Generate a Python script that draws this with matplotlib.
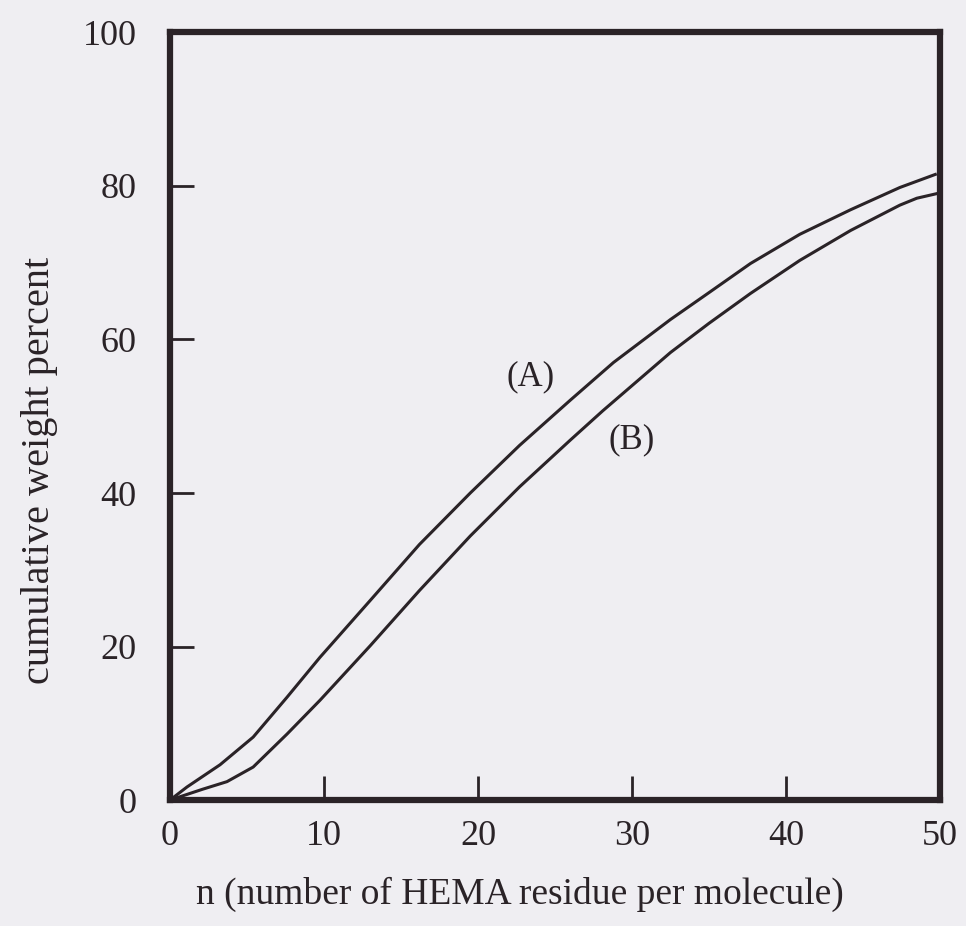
import matplotlib
matplotlib.use("Agg")
import matplotlib.pyplot as plt

# values
n_a = [0, 1.1, 3.25, 5.4, 7.6, 9.74, 13.0, 16.2, 19.5, 22.7, 26.0, 28.8, 32.5,
       35.0, 37.7, 40.9, 44.2, 47.4, 49.7]
w_a = [0, 1.7, 4.6, 8.2, 13.4, 18.6, 26.0, 33.3, 40.0, 46.2, 52.1, 57.0, 62.6,
       66.1, 69.9, 73.7, 76.9, 79.8, 81.5]
n_b = [0, 2.1, 3.7, 5.4, 7.6, 9.74, 13.0, 16.2, 19.5, 22.7, 26.0, 28.1, 32.5,
       35.0, 37.7, 40.9, 44.2, 47.4, 48.5, 49.8]
w_b = [0, 1.4, 2.4, 4.3, 8.6, 13.0, 20.1, 27.3, 34.4, 40.8, 46.9, 50.7, 58.3,
       62.1, 66.0, 70.3, 74.2, 77.5, 78.4, 79.0]

x_ticks = [0, 10, 20, 30, 40, 50]
y_ticks = [0, 20, 40, 60, 80, 100]

bg = "#efeef2"
ink = "#2a2327"

plt.rcParams["font.family"] = ["Liberation Serif", "DejaVu Serif"]

fig = plt.figure(figsize=(9.66, 9.26), dpi=100, facecolor=bg)
ax = fig.add_axes([0.176, 0.136, 0.797, 0.829])
ax.set_facecolor(bg)

ax.plot(n_a, w_a, color=ink, lw=2.2, solid_joinstyle="round")
ax.plot(n_b, w_b, color=ink, lw=2.2, solid_joinstyle="round")

ax.text(23.4, 55.2, "(A)", fontsize=25, color=ink, ha="center", va="center")
ax.text(30.0, 46.9, "(B)", fontsize=25, color=ink, ha="center", va="center")

ax.set_xlim(0, 50)
ax.set_ylim(0, 100)
ax.set_xticks(x_ticks)
ax.set_yticks(y_ticks)
ax.tick_params(direction="in", length=17, width=2, color=ink,
               labelsize=26, labelcolor=ink)
ax.tick_params(axis="x", pad=14)
ax.tick_params(axis="y", pad=24)

for s in ax.spines.values():
    s.set_linewidth(4.5)
    s.set_color(ink)

ax.set_xlabel("n (number of HEMA residue per molecule)", fontsize=27, color=ink)
ax.set_ylabel("cumulative weight percent", fontsize=29, color=ink)
ax.xaxis.set_label_coords(0.455, -0.10)
ax.yaxis.set_label_coords(-0.145, 0.43)

fig.savefig("out.png", dpi=100, facecolor=bg)
